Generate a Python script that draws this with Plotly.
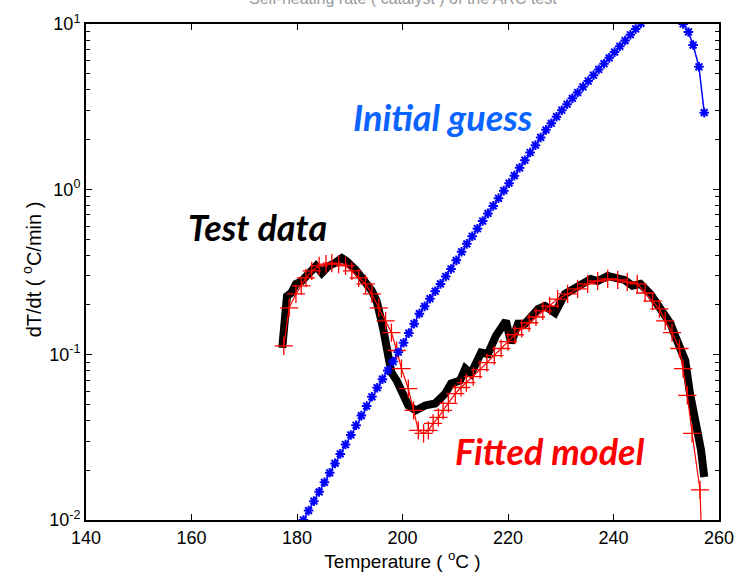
import plotly.graph_objects as go

# ---- Test data (black thick line) ----
test_T = [177.2, 177.7, 178.1, 178.9, 179.8, 180.9, 182.3, 183.6, 184.7, 186.0,
          187.2, 188.5, 189.4, 190.4, 191.3, 192.3, 193.2, 194.2, 195.1, 195.5,
          196.0, 196.4, 197.0, 197.4, 197.9, 198.9, 199.8, 200.6, 201.1, 202.5,
          204.3, 206.2, 208.1, 209.2, 210.9, 211.9, 213.0, 214.9, 216.2, 217.7,
          219.6, 220.6, 221.9, 223.2, 225.7, 227.0, 228.9, 230.8, 232.6, 234.2,
          235.7, 237.0, 238.9, 240.4, 242.1, 243.6, 245.1, 247.0, 248.3, 249.6,
          250.8, 251.7, 252.6, 253.6, 254.5, 255.8, 256.6, 257.2]
test_y = [0.110, 0.160, 0.226, 0.236, 0.268, 0.279, 0.308, 0.344, 0.312, 0.344,
          0.358, 0.384, 0.368, 0.344, 0.321, 0.291, 0.268, 0.243, 0.211, 0.192,
          0.160, 0.140, 0.106, 0.0895, 0.0780, 0.0697, 0.0607, 0.0528, 0.0493, 0.0460,
          0.0493, 0.0507, 0.0582, 0.0668, 0.0697, 0.0824, 0.0769, 0.103, 0.101, 0.130,
          0.160, 0.118, 0.154, 0.154, 0.189, 0.197, 0.179, 0.233, 0.250, 0.272,
          0.287, 0.279, 0.299, 0.291, 0.283, 0.261, 0.268, 0.233, 0.203, 0.172,
          0.154, 0.130, 0.110, 0.0920, 0.0582, 0.0384, 0.0264, 0.0182]

# ---- Fitted model (red, + markers) ----
fit_T = [177.5, 178.5, 179.8, 180.8, 181.7, 182.8, 184.2, 185.5, 186.6, 187.9,
         189.2, 190.4, 191.7, 193.0, 194.2, 195.5, 196.8, 197.9, 198.9, 199.8,
         201.1, 202.1, 203.0, 204.0, 204.9, 205.8, 206.8, 207.7, 208.7, 210.0,
         211.1, 212.1, 213.4, 214.7, 216.0, 217.4, 218.7, 220.0, 221.3, 222.6,
         224.0, 225.3, 226.6, 227.9, 229.4, 231.3, 233.2, 235.1, 237.0, 238.9,
         240.8, 242.6, 244.5, 246.0, 247.4, 248.7, 249.8, 251.1, 252.5, 253.2,
         254.0, 254.9, 256.4, 256.9]
fit_y = [0.113, 0.192, 0.233, 0.261, 0.291, 0.321, 0.344, 0.353, 0.358, 0.353,
         0.344, 0.321, 0.291, 0.268, 0.233, 0.192, 0.160, 0.136, 0.106, 0.0824,
         0.0624, 0.0460, 0.0348, 0.0334, 0.0348, 0.0384, 0.0417, 0.0460, 0.0507, 0.0582,
         0.0633, 0.0678, 0.0736, 0.0812, 0.0895, 0.0986, 0.109, 0.120, 0.132, 0.144,
         0.156, 0.169, 0.184, 0.197, 0.217, 0.233, 0.250, 0.268, 0.279, 0.287,
         0.283, 0.275, 0.268, 0.236, 0.211, 0.189, 0.160, 0.136, 0.109, 0.0824,
         0.0567, 0.0334, 0.0152, 0.0050]

# ---- Initial guess (blue, * markers) ----
guess_T = [181.2, 182.2, 183.2, 184.2, 185.2, 186.2, 187.2, 188.2, 189.2, 190.2,
           191.2, 192.2, 193.2, 194.2, 195.2, 196.2, 197.2, 198.2, 199.2, 200.2,
           201.2, 202.2, 203.2, 204.2, 205.2, 206.2, 207.2, 208.2, 209.2, 210.2,
           211.2, 212.2, 213.2, 214.2, 215.2, 216.2, 217.2, 218.2, 219.2, 220.2,
           221.2, 222.2, 223.2, 224.2, 225.2, 226.2, 227.2, 228.2, 229.2, 230.2,
           231.2, 232.2, 233.2, 234.2, 235.2, 236.2, 237.2, 238.2, 239.2, 240.2,
           241.2, 242.2, 243.2, 244.2, 245.2, 246.2, 247.2, 248.2, 249.2, 250.2,
           251.2, 252.2, 253.2, 254.2, 255.1, 256.2, 257.2]
guess_y = [0.0100, 0.0114, 0.0130, 0.0148, 0.0169, 0.0193, 0.0220, 0.0251, 0.0286, 0.0327,
           0.0374, 0.0428, 0.0489, 0.0556, 0.0631, 0.0711, 0.0802, 0.0908, 0.1035, 0.118,
           0.135, 0.154, 0.177, 0.196, 0.218, 0.242, 0.268, 0.297, 0.330, 0.372,
           0.419, 0.468, 0.520, 0.578, 0.643, 0.715, 0.794, 0.883, 0.982, 1.09,
           1.21, 1.35, 1.50, 1.67, 1.85, 2.06, 2.29, 2.51, 2.75, 3.01,
           3.27, 3.55, 3.85, 4.17, 4.52, 4.90, 5.31, 5.75, 6.24, 6.76,
           7.33, 7.94, 8.61, 9.33, 10.1, 11.0, 11.7, 12.3, 12.6, 12.6,
           12.0, 11.2, 10.0, 8.95, 7.46, 5.51, 2.91]

x_ticks = [140, 160, 180, 200, 220, 240, 260]
y_ticks = [0.01, 0.1, 1, 10]
y_ticktext = ["10<sup>-2</sup>", "10<sup>-1</sup>", "10<sup>0</sup>", "10<sup>1</sup>"]

fig = go.Figure()
fig.add_trace(go.Scatter(x=test_T, y=test_y, mode="lines",
                         line=dict(color="black", width=8), showlegend=False))
fig.add_trace(go.Scatter(x=fit_T, y=fit_y, mode="lines+markers",
                         line=dict(color="#FF0000", width=1.2),
                         marker=dict(symbol="cross-thin-open", size=13,
                                     line=dict(color="#FF0000", width=1.3)),
                         showlegend=False))
fig.add_trace(go.Scatter(x=guess_T, y=guess_y, mode="lines+markers",
                         line=dict(color="#0000FF", width=1.5),
                         marker=dict(symbol="asterisk-open", size=8,
                                     line=dict(color="#0000FF", width=2)),
                         showlegend=False))

PL, PR, PT, PB = 86, 722, 22, 520


def px_to_paper_y(py):
    return 1 - (py - PT) / (PB - PT)


def px_to_paper_x(px):
    return (px - PL) / (PR - PL)


ann_font = "Lato"
for txt, cx, cy, col in [("Initial guess", 445, 115, "#0A64FF"),
                         ("Test data", 258, 226, "black"),
                         ("Fitted model", 552, 451, "#FF0000")]:
    fig.add_annotation(xref="paper", yref="paper", x=px_to_paper_x(cx), y=px_to_paper_y(cy),
                       xanchor="center", yanchor="middle",
                       text="<b><i>" + txt + "</i></b>", showarrow=False,
                       font=dict(family=ann_font, size=36, color=col))

# clipped title at the top
fig.add_annotation(xref="paper", yref="paper", x=px_to_paper_x(405), y=1, yanchor="bottom",
                   xanchor="center", yshift=15,
                   text="Self-heating rate ( catalyst ) of the ARC test",
                   showarrow=False, font=dict(family="Liberation Sans", size=16, color="#999999"))

# y-axis title
fig.add_annotation(xref="paper", yref="paper", x=px_to_paper_x(31), y=px_to_paper_y(268),
                   xanchor="center", yanchor="middle", textangle=-90,
                   text="dT/dt ( <sup>o</sup>C/min )", showarrow=False,
                   font=dict(family="Liberation Sans", size=20, color="black"))

axis_common = dict(showline=True, linecolor="black", linewidth=2, mirror="ticks",
                   ticks="inside", tickcolor="black", tickwidth=1, showgrid=False,
                   zeroline=False,
                   tickfont=dict(family="Liberation Sans", size=18, color="black"))

fig.update_xaxes(range=[140, 260], tickvals=x_ticks, ticklen=6,
                 title=dict(text="Temperature ( <sup>o</sup>C )", standoff=6,
                            font=dict(family="Liberation Sans", size=19, color="black")),
                 **axis_common)
fig.update_yaxes(type="log", range=[-2, 1], tickvals=y_ticks, ticktext=y_ticktext, ticklen=6,
                 minor=dict(ticks="inside", ticklen=4, dtick="D1", tickcolor="black", showgrid=False),
                 **axis_common)

fig.update_layout(width=746, height=583, margin=dict(l=PL, r=746 - PR, t=PT, b=583 - PB),
                  plot_bgcolor="white", paper_bgcolor="white")

fig.write_html("out.html")
